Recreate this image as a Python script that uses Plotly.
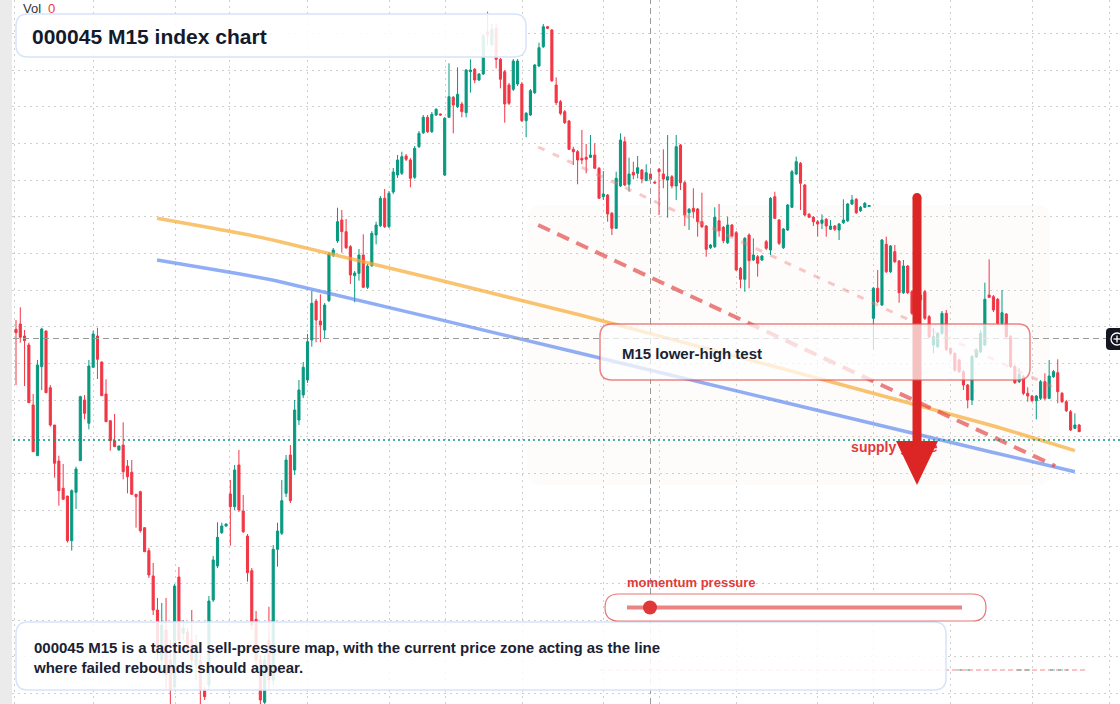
import plotly.graph_objects as go

# ---------------- data (index level points, one bar per 15 minutes) ----------------
open_ = [670.7, 676, 664, 655, 595, 544.3, 633.3, 669, 612.3, 575, 539, 511.7, 504, 459.3, 507.7, 539.3, 600, 576.7, 632.7, 664,
         638, 606, 579.3, 559.3, 550, 555, 534, 527.7, 505.7, 508.3, 472.3, 449.3, 424, 390, 340, 370, 340, 313, 423, 367,
         368, 360, 335, 340, 309.3, 315, 400, 434, 467.3, 474, 506, 493.3, 535, 489, 464, 429.3, 380.7, 340, 297.7, 360,
         320, 450.7, 466.7, 506.7, 545, 530, 580, 605, 620, 660, 699, 679, 670, 699.3, 745, 759, 780, 768.3, 753.3, 724.3,
         726.7, 745, 712.7, 734.3, 765, 774.3, 801.7, 773.3, 808, 825, 826.7, 844, 840, 822.7, 853.3, 867.3, 882.7, 868.3, 885, 886,
         825, 882.7, 902.7, 893.3, 896, 887.3, 928.3, 930.7, 920, 926, 968.3, 955, 971.7, 940.7, 928.3, 915, 910.7, 916, 916, 879.3,
         885, 907.3, 934, 953.3, 973.3, 970, 915, 898.3, 888.3, 879, 850.7, 848.3, 841.7, 842.7, 842.7, 845, 831.7, 803.3, 805, 786.7,
         771.7, 814, 858.3, 815.7, 827.7, 826.7, 830, 819.3, 826, 818, 830.7, 826, 820, 823.3, 814, 855, 817.3, 787.3, 791.7, 791,
         778.3, 774, 752.3, 753.3, 779.3, 772.7, 757.3, 775, 767.3, 731.7, 720.7, 765, 740, 743.3, 740, 758.3, 750, 803.3, 780, 752.3,
         770, 792.7, 826, 836.7, 815, 785.7, 782.7, 778.3, 776.7, 780.7, 770.7, 774, 770, 777.3, 779.3, 796, 800.7, 789.3, 792.7, 793.5,
         681.7, 711.7, 695, 755.7, 728.3, 748.3, 739, 707.3, 734, 708.3, 686.7, 705, 708.3, 683.3, 655, 653.3, 666.7, 686.7, 651.7, 646.7,
         640, 628.3, 615, 600, 643, 648.3, 655, 705, 703.3, 700.7, 676.7, 686, 663.3, 633.3, 618.3, 623.3, 606.7, 604, 599.3, 601.7,
         618.3, 601.7, 623.3, 627.3, 606.7, 598.3, 588.3, 571.7, 575]
high = [680, 692.7, 670, 657.3, 606, 640, 672.3, 669.5, 615, 575, 544.3, 536, 504, 510.7, 533.3, 604.3, 605, 640, 669.3, 672.3,
        638.5, 620.7, 579.3, 586, 554.5, 577.7, 540, 540, 505.7, 509.3, 472.5, 452, 437, 402, 397, 402, 360, 416, 433, 380,
        372, 390, 365, 350, 313, 404, 444, 477.7, 477.3, 476.5, 520, 535, 550, 505, 466, 432, 389, 345, 345, 393.3,
        455, 477.3, 520, 545, 555, 600, 620, 638, 666, 709, 701, 705.7, 697, 748, 752, 792.3, 790, 781, 755, 729,
        751, 765.7, 736, 769, 778.3, 804, 811, 809, 832, 845, 848.3, 846, 842, 854, 869, 885, 885, 888, 891.7, 886.5,
        883, 936.7, 904, 932.7, 898, 931, 940.7, 932, 927, 966, 988.3, 976, 976.7, 942, 930, 917, 941, 941, 918, 888,
        911, 936, 957.3, 976, 974, 971, 922.7, 900, 890, 880, 853.3, 850, 870, 856, 865, 856.7, 833, 829, 806, 788,
        828.3, 866.7, 863.3, 842.3, 838.3, 844, 831, 835.7, 827, 818.5, 832, 850.7, 865, 825, 865, 856, 819, 792, 811.7, 792,
        807.3, 775, 756, 792.7, 796, 774, 783.3, 776, 769, 733, 763, 766.7, 761.7, 745, 745, 760, 803, 808.3, 781, 772,
        796, 830, 843.3, 838, 816, 787, 784, 780, 785.7, 782, 780, 775, 777, 800.7, 797, 805, 802, 794, 798, 795,
        713, 730, 761, 763.3, 755, 755, 740, 740, 735, 710, 710, 712, 710, 685, 672, 668, 689, 690, 652.5, 647.5,
        641, 630, 616, 645, 652, 670, 717.3, 740.7, 705, 702, 710, 687, 665, 635, 632, 625, 612.7, 605, 605, 620,
        626.7, 640, 630, 640.7, 608, 600, 590, 586.7, 576]
low = [615, 657.3, 614, 597.3, 548.3, 544.3, 610, 607, 573.3, 522.3, 494.3, 500.7, 457.3, 449.3, 491, 539.3, 580.7, 570.7, 632.7, 621,
       604, 578.3, 549.3, 553.3, 549.5, 520.7, 506.7, 505.7, 472.3, 467.3, 448, 422, 385, 340, 328, 310, 296, 310, 350, 360,
       345, 330, 320, 296, 300, 310, 398, 432, 466, 473.5, 454.3, 490, 488, 467, 418.3, 370, 330, 296, 296, 310,
       315, 433.3, 465, 503, 497, 525, 575, 602, 617, 653.3, 657.7, 657.7, 661.7, 698, 743, 757, 747.3, 751, 716, 697.7,
       719.3, 712, 711, 733, 755.7, 773, 772, 772, 806, 822, 825, 839, 812.7, 821, 852, 866, 867, 867, 884, 884.5,
       824, 882, 866.7, 892, 882.7, 882.7, 907.3, 916.7, 919, 925, 955, 954, 931.7, 911.7, 877.3, 895, 909, 914, 878, 862.7,
       884, 906, 933, 952, 971, 918, 895, 885, 876, 850, 835, 815.7, 835.7, 826.7, 842, 831, 801, 800, 778.3, 765,
       771, 813, 814, 808.3, 820.7, 821.7, 816.7, 819, 820, 816.5, 785, 811.7, 782.3, 811.7, 800, 810, 774, 770, 781.7, 763.3,
       772, 743.3, 751, 752, 763.3, 756.7, 756, 763, 729.3, 711.7, 708.3, 711.7, 739, 723.3, 739, 750, 745, 781, 755, 751,
       769, 792, 825, 790, 784, 782, 774, 763.3, 771, 763.3, 770, 769, 760, 776, 778, 795, 786, 788, 792, 793,
       650, 697, 694, 727, 727, 737, 697.3, 706, 706, 685, 684, 696, 680, 662, 646.7, 652, 665, 649, 645, 628,
       627, 610, 591.7, 595, 642, 647, 654, 702, 688, 675, 675, 662, 632, 616, 617, 605, 598.3, 598, 580.7, 600,
       600, 601, 622, 596.7, 597, 588, 569, 571, 568]
close_ = [667.3, 662.7, 659.3, 597.3, 548.3, 635, 671, 607.3, 575, 536.7, 509.3, 500.7, 459.3, 509.3, 531, 603.3, 586.7, 634, 666, 640.7,
          604.3, 578.3, 559.3, 553.3, 554, 528.3, 523.3, 505.7, 503.3, 469.3, 448.3, 425, 390, 350, 375, 325, 310, 414, 360, 372,
          350, 340, 355, 310, 303.3, 399, 440, 462.7, 474, 476, 493.3, 530, 490, 468.3, 427.3, 375, 340, 300, 340, 320,
          450.7, 469, 499.3, 540, 499.3, 590, 610, 632.7, 658.3, 696.7, 680, 675, 695, 746, 750, 778.3, 768.3, 752.3, 725, 727,
          745, 712.7, 734, 766.7, 775, 801.7, 773.3, 806.7, 828, 840, 843.3, 840.7, 821.7, 851.7, 866.7, 882.7, 868.3, 885.7, 890.7, 885,
          881.7, 903.3, 895, 905.7, 888.3, 930, 930, 920, 926, 964, 965, 970.7, 940.7, 920.7, 896, 896.7, 939, 939, 879.3, 886.7,
          909.3, 935, 952.3, 973.3, 971.7, 919.3, 897.3, 886.7, 877.3, 850.7, 848.3, 840, 840, 840.7, 845, 831.7, 801.7, 806, 786, 771.7,
          821.7, 860, 815, 826, 825, 832.3, 821, 827.3, 820.7, 817, 828.3, 821, 823.3, 814, 853.3, 817.3, 785, 790.7, 788.3, 778.3,
          773.3, 750.7, 755, 782.7, 769.3, 759.3, 775, 764, 730, 720.7, 761.7, 739.3, 745, 736.7, 744, 751.7, 801.7, 781.7, 756.7, 771,
          795, 828.3, 838.3, 816.7, 785, 782.7, 778.3, 776, 780, 774, 774, 770.7, 776, 780, 796, 800, 787.3, 792.7, 796.7, 794.5,
          711.7, 698.3, 760, 728.3, 754, 738.3, 707.3, 734, 707.3, 686.7, 705, 700, 681.7, 663.3, 663.3, 666.7, 686.7, 650.7, 646.7, 630,
          628.3, 615, 600, 643.3, 650, 666.7, 700.7, 702.7, 690, 676.7, 687.3, 663.3, 633.3, 617.3, 625.7, 606.7, 604, 599.3, 604, 618.3,
          601.7, 624, 628.3, 608.3, 598.3, 589.3, 570, 575, 568.3]

last_price_line = 560
grid_bars = [-0.3, 18, 37.2, 49.9, 68, 87.1, 100.2, 118.2, 137, 150.2, 168.1, 187, 200.1, 217.9, 237.2, 255]

# analyst drawings, anchored in (bar index, level)
orange_x = [32.9, 52.3, 61.6, 131.6, 227.2, 247.0]
orange_y = [781.7, 766.7, 758.3, 685, 575, 549.3]
blue_x = [32.9, 52.3, 61.6, 131.6, 227.2, 247.0]
blue_y = [740, 726, 718.3, 646.7, 548.3, 528.3]
red_dash_x = [121.8, 242.4]
red_dash_y = [775, 534]
pale_dash_x = [121.8, 241.9]
pale_dash_y = [853, 613]

TITLE = "000045 M15 index chart"
CALLOUT = "M15 lower-high test"
SUPPLY = "supply guide"
MOMENTUM = "momentum pressure"
NOTE = ("000045 M15 is a tactical sell-pressure map, with the current price zone acting as the line<br>"
        "where failed rebounds should appear.")

# ---------------- figure ----------------
W, H = 1120, 704
BAR0_PX, BAR_PX = 16, 4.287
UP, DOWN = "#089981", "#F23645"
FONT = "Liberation Sans, Arial, sans-serif"

def X(p):
    return p / W

def Y(p):
    return 1 - p / H

def rrect(x0, y0, x1, y1, r):
    rx, ry = r / W, r / H
    a, b, c, d = X(x0), Y(y0), X(x1), Y(y1)
    return (f"M {a+rx},{b} L {c-rx},{b} Q {c},{b} {c},{b-ry} L {c},{d+ry} Q {c},{d} {c-rx},{d} "
            f"L {a+rx},{d} Q {a},{d} {a},{d+ry} L {a},{b-ry} Q {a},{b} {a+rx},{b} Z")

idx = list(range(len(close_)))
fig = go.Figure()
fig.add_trace(go.Candlestick(
    x=idx, open=open_, high=high, low=low, close=close_,
    increasing=dict(line=dict(color=UP, width=1), fillcolor=UP),
    decreasing=dict(line=dict(color=DOWN, width=1), fillcolor=DOWN),
    whiskerwidth=0, hoverinfo="skip", showlegend=False))

fig.add_trace(go.Scatter(x=orange_x, y=orange_y, mode="lines", line=dict(color="rgba(247,170,50,0.7)", width=3.5, shape="spline", smoothing=0.6),
                         hoverinfo="skip", showlegend=False))
fig.add_trace(go.Scatter(x=blue_x, y=blue_y, mode="lines", line=dict(color="rgba(85,130,240,0.65)", width=3.5, shape="spline", smoothing=0.6),
                         hoverinfo="skip", showlegend=False))
fig.add_trace(go.Scatter(x=pale_dash_x, y=pale_dash_y, mode="lines", line=dict(color="rgba(235,120,120,0.4)", width=3, dash="7px,9px"),
                         hoverinfo="skip", showlegend=False))
fig.add_trace(go.Scatter(x=red_dash_x, y=red_dash_y, mode="lines", line=dict(color="rgba(226,70,70,0.68)", width=4, dash="13px,8px"),
                         hoverinfo="skip", showlegend=False))
fig.add_trace(go.Scatter(x=[194.8], y=[552], mode="text", text=[SUPPLY], textposition="middle right",
                         textfont=dict(family=FONT, size=14, color="#E03A3A", weight="bold"),
                         hoverinfo="skip", showlegend=False))

shapes = []
# faint zone background
shapes.append(dict(type="path", xref="paper", yref="paper", path=rrect(527, 205, 1050, 485, 14),
                   fillcolor="rgba(248,230,218,0.13)", line=dict(width=0), layer="below"))
# left strip
shapes.append(dict(type="rect", xref="paper", yref="paper", x0=0, x1=X(12), y0=0, y1=1,
                   fillcolor="#EBEBEB", line=dict(width=0), layer="above"))
# crosshair
shapes.append(dict(type="line", xref="paper", yref="paper", x0=X(650.5), x1=X(650.5), y0=0, y1=1,
                   line=dict(color="#9A9A9A", width=1, dash="6px,4px"), layer="above"))
shapes.append(dict(type="line", xref="paper", yref="paper", x0=X(13), x1=X(1106), y0=Y(338.5), y1=Y(338.5),
                   line=dict(color="#9A9A9A", width=1, dash="6px,4px"), layer="above"))
# last price line
shapes.append(dict(type="line", xref="paper", yref="y", x0=X(13), x1=1, y0=last_price_line, y1=last_price_line,
                   line=dict(color=UP, width=1.5, dash="2px,3px"), layer="above"))
# volume baseline (zero volume)
shapes.append(dict(type="line", xref="paper", yref="paper", x0=X(600), x1=X(1085), y0=Y(670), y1=Y(670),
                   line=dict(color="rgba(242,54,69,0.6)", width=1, dash="5px,3px"), layer="above"))
for a, b in [(957, 973), (1017, 1033), (1050, 1068)]:
    shapes.append(dict(type="line", xref="paper", yref="paper", x0=X(a), x1=X(b), y0=Y(670), y1=Y(670),
                       line=dict(color="rgba(8,153,129,0.65)", width=1, dash="5px,3px"), layer="above"))
# big arrow
ARROW = "rgb(220,38,38)"
shapes.append(dict(type="line", xref="paper", yref="paper", x0=X(917), x1=X(917), y0=Y(197.5), y1=Y(446),
                   line=dict(color=ARROW, width=9), layer="above"))
shapes.append(dict(type="circle", xref="paper", yref="paper", x0=X(912.5), x1=X(921.5), y0=Y(193), y1=Y(202),
                   fillcolor=ARROW, line=dict(width=0), layer="above"))
shapes.append(dict(type="path", xref="paper", yref="paper",
                   path=f"M {X(896)},{Y(441)} L {X(938)},{Y(441)} L {X(917)},{Y(485)} Z",
                   fillcolor=ARROW, line=dict(width=0), layer="above"))
# callout box
shapes.append(dict(type="path", xref="paper", yref="paper", path=rrect(600, 324, 1030, 380, 12),
                   fillcolor="rgba(255,255,255,0.72)", line=dict(color="rgba(226,80,80,0.7)", width=1.5), layer="above"))
# title box
shapes.append(dict(type="path", xref="paper", yref="paper", path=rrect(16, 14, 526, 57, 12),
                   fillcolor="rgba(255,255,255,0.88)", line=dict(color="#D6E4FA", width=1.5), layer="above"))
# note box
shapes.append(dict(type="path", xref="paper", yref="paper", path=rrect(16, 622, 946, 690, 12),
                   fillcolor="rgba(255,255,255,0.86)", line=dict(color="#D6E4FA", width=1.5), layer="above"))
# momentum pill
shapes.append(dict(type="path", xref="paper", yref="paper", path=rrect(605, 594, 986, 621, 13.5),
                   fillcolor="white", line=dict(color="rgba(226,70,70,0.75)", width=1.2), layer="above"))
shapes.append(dict(type="line", xref="paper", yref="paper", x0=X(627), x1=X(962), y0=Y(607.5), y1=Y(607.5),
                   line=dict(color="rgba(228,90,90,0.75)", width=4), layer="above"))
shapes.append(dict(type="circle", xref="paper", yref="paper", x0=X(643), x1=X(657), y0=Y(600.5), y1=Y(614.5),
                   fillcolor="#E03838", line=dict(width=0), layer="above"))
# right-side badge
shapes.append(dict(type="path", xref="paper", yref="paper", path=rrect(1106, 328, 1126, 350, 4),
                   fillcolor="#131722", line=dict(width=0), layer="above"))
shapes.append(dict(type="circle", xref="paper", yref="paper", x0=X(1111), x1=X(1123), y0=Y(333), y1=Y(345),
                   line=dict(color="white", width=1.3), layer="above"))
shapes.append(dict(type="line", xref="paper", yref="paper", x0=X(1113.5), x1=X(1120.5), y0=Y(339), y1=Y(339),
                   line=dict(color="white", width=1.3), layer="above"))
shapes.append(dict(type="line", xref="paper", yref="paper", x0=X(1117), x1=X(1117), y0=Y(335.5), y1=Y(342.5),
                   line=dict(color="white", width=1.3), layer="above"))

annotations = [
    dict(x=X(30), y=Y(36), xref="paper", yref="paper", xanchor="left", yanchor="middle", showarrow=False,
         text=f"<b>{TITLE}</b>", font=dict(family=FONT, size=21, color="#131A2A")),
    dict(x=X(620), y=Y(353), xref="paper", yref="paper", xanchor="left", yanchor="middle", showarrow=False,
         text=f"<b>{CALLOUT}</b>", font=dict(family=FONT, size=15, color="#1A2233")),
    dict(x=X(31), y=Y(657.5), xref="paper", yref="paper", xanchor="left", yanchor="middle", showarrow=False, align="left",
         text=f"<b>{NOTE}</b>", font=dict(family=FONT, size=15, color="#1A2233")),
    dict(x=X(625), y=Y(582), xref="paper", yref="paper", xanchor="left", yanchor="middle", showarrow=False,
         text=f"<b>{MOMENTUM}</b>", font=dict(family=FONT, size=13, color="#E03A3A")),
    dict(x=X(21), y=Y(8.5), xref="paper", yref="paper", xanchor="left", yanchor="middle", showarrow=False,
         text="Vol", font=dict(family=FONT, size=13, color="#333333")),
    dict(x=X(46), y=Y(8.5), xref="paper", yref="paper", xanchor="left", yanchor="middle", showarrow=False,
         text="0", font=dict(family=FONT, size=13, color="#F23645")),
]

x_lo = -BAR0_PX / BAR_PX
x_hi = (W - BAR0_PX) / BAR_PX
fig.update_layout(
    width=W, height=H, margin=dict(l=0, r=0, t=0, b=0),
    paper_bgcolor="white", plot_bgcolor="white", showlegend=False,
    shapes=shapes, annotations=annotations,
    xaxis=dict(range=[x_lo, x_hi], showticklabels=False, ticks="", tickmode="array", tickvals=grid_bars,
               showgrid=True, gridcolor="#CFCFCF", griddash="2px,4px", gridwidth=1, zeroline=False,
               rangeslider=dict(visible=False), showline=False),
    yaxis=dict(range=[296, 1000], showticklabels=False, ticks="", tick0=930, dtick=110 / 3,
               showgrid=True, gridcolor="#CFCFCF", griddash="2px,4px", gridwidth=1, zeroline=False, showline=False),
)

fig.write_html("out.html")
